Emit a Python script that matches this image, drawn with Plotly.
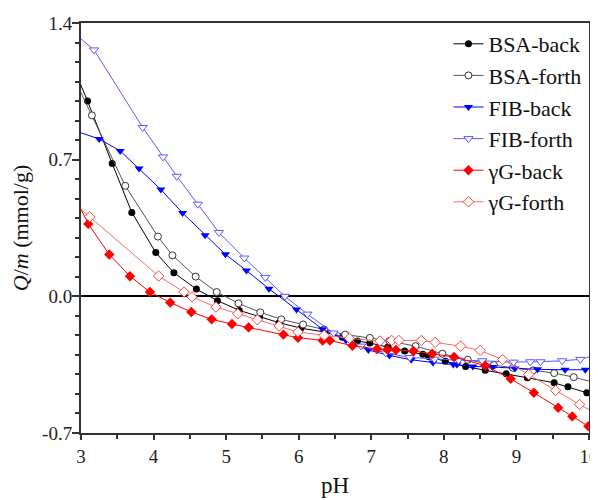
import plotly.graph_objects as go

# ---------------- data ----------------
bsa_back_ph = [2.9, 3.09, 3.43, 3.70, 4.03, 4.28, 4.59, 4.88, 5.18, 5.46, 5.73, 6.03, 6.36, 6.60, 6.81, 6.98,
               7.23, 7.46, 7.71, 7.79, 8.02, 8.30, 8.57, 8.86, 9.15, 9.52, 9.71, 9.97]
bsa_back_q = [1.17, 1.00, 0.68, 0.43, 0.224, 0.121, 0.037, -0.022, -0.072, -0.104, -0.135, -0.163, -0.183, -0.21,
              -0.229, -0.239, -0.26, -0.28, -0.297, -0.308, -0.333, -0.359, -0.379, -0.397, -0.417, -0.443, -0.463, -0.494]

bsa_forth_ph = [2.9, 3.15, 3.61, 4.06, 4.26, 4.58, 4.87, 5.17, 5.47, 5.76, 6.06, 6.35, 6.64, 6.98, 7.25, 7.61,
                7.98, 8.33, 8.69, 8.95, 9.23, 9.52, 9.79, 10.1]
bsa_forth_q = [1.12, 0.927, 0.566, 0.306, 0.21, 0.101, 0.022, -0.036, -0.082, -0.118, -0.144, -0.17, -0.196,
               -0.213, -0.229, -0.255, -0.294, -0.325, -0.352, -0.366, -0.379, -0.393, -0.414, -0.444]

fib_back_ph = [2.9, 3.25, 3.54, 3.80, 4.10, 4.40, 4.71, 4.99, 5.28, 5.59, 5.97, 6.33, 6.65, 6.96, 7.25, 7.55,
               7.85, 8.13, 8.18, 8.40, 8.67, 8.98, 9.29, 9.67, 9.95]
fib_back_q = [0.85, 0.806, 0.745, 0.655, 0.547, 0.427, 0.313, 0.215, 0.132, 0.039, -0.068, -0.169, -0.225, -0.275,
              -0.303, -0.325, -0.339, -0.349, -0.349, -0.359, -0.362, -0.369, -0.374, -0.376, -0.376]

fib_forth_ph = [2.9, 3.18, 3.85, 4.13, 4.32, 4.61, 4.90, 5.25, 5.54, 5.81, 6.12, 6.48, 6.86, 7.20, 7.53, 7.87,
                8.20, 8.53, 8.96, 9.19, 9.33, 9.63, 9.88, 10.1]
fib_forth_q = [1.35, 1.262, 0.865, 0.714, 0.615, 0.472, 0.327, 0.196, 0.097, 0.0, -0.091, -0.188, -0.255, -0.29,
               -0.313, -0.322, -0.327, -0.33, -0.337, -0.335, -0.335, -0.33, -0.323, -0.30]

gg_back_ph = [2.9, 3.10, 3.39, 3.675, 3.95, 4.23, 4.52, 4.80, 5.08, 5.31, 5.79, 5.99, 6.33, 6.43, 6.74, 7.08,
              7.22, 7.34, 7.58, 7.84, 8.14, 8.57, 8.92, 9.24, 9.575, 9.77, 9.99]
gg_back_q = [0.52, 0.371, 0.214, 0.103, 0.022, -0.032, -0.08, -0.118, -0.142, -0.159, -0.196, -0.212, -0.226,
             -0.226, -0.253, -0.27, -0.273, -0.275, -0.28, -0.294, -0.311, -0.355, -0.422, -0.494, -0.571, -0.615, -0.665]

gg_forth_ph = [2.9, 3.12, 4.07, 4.42, 4.53, 4.86, 5.16, 5.43, 5.73, 5.99, 6.35, 6.70, 7.12, 7.28, 7.38, 7.69,
               7.88, 8.23, 8.50, 8.81, 9.17, 9.54, 9.87, 10.1]
gg_forth_q = [0.48, 0.407, 0.104, 0.022, -0.003, -0.055, -0.089, -0.12, -0.152, -0.183, -0.20, -0.215, -0.229,
              -0.226, -0.226, -0.226, -0.236, -0.255, -0.277, -0.324, -0.40, -0.482, -0.554, -0.60]

series_names = ["BSA-back", "BSA-forth", "FIB-back", "FIB-forth", "γG-back", "γG-forth"]

x_tick_vals = [3, 4, 5, 6, 7, 8, 9, 10]
x_tick_text = ["3", "4", "5", "6", "7", "8", "9", "10"]
y_tick_vals = [-0.7, 0.0, 0.7, 1.4]
y_tick_text = ["-0.7", "0.0", "0.7", "1.4"]

# ---------------- styles ----------------
FONT = "Liberation Serif"
styles = [
    dict(line=dict(color="#000000", width=1), marker=dict(symbol="circle", size=7, color="#000000",
                                                          line=dict(color="#000000", width=0))),
    dict(line=dict(color="#555555", width=1), marker=dict(symbol="circle", size=7, color="#ffffff",
                                                          line=dict(color="#333333", width=1))),
    dict(line=dict(color="#0000ff", width=1), marker=dict(symbol="triangle-down", size=8, color="#0000ff",
                                                          line=dict(color="#0000ff", width=0))),
    dict(line=dict(color="#5a5aff", width=1), marker=dict(symbol="triangle-down", size=8, color="#ffffff",
                                                          line=dict(color="#5a5aff", width=1))),
    dict(line=dict(color="#ff0000", width=1), marker=dict(symbol="diamond", size=8, color="#ff0000",
                                                          line=dict(color="#ff0000", width=0))),
    dict(line=dict(color="#ff6a6a", width=1), marker=dict(symbol="diamond", size=8, color="#ffffff",
                                                          line=dict(color="#ff4040", width=1))),
]
xs = [bsa_back_ph, bsa_forth_ph, fib_back_ph, fib_forth_ph, gg_back_ph, gg_forth_ph]
ys = [bsa_back_q, bsa_forth_q, fib_back_q, fib_forth_q, gg_back_q, gg_forth_q]

fig = go.Figure()
for name, x, y, st in zip(series_names, xs, ys, styles):
    fig.add_trace(go.Scatter(x=x, y=y, name=name, mode="lines+markers", cliponaxis=True,
                             legendgroup=name, **st))

axis_common = dict(showline=True, linecolor="#333333", linewidth=2, mirror=True, showgrid=False,
                   ticks="outside", tickcolor="#333333", tickwidth=1.5, automargin=False,
                   ticklabeloverflow="allow",
                   tickfont=dict(family=FONT, size=19, color="#222222"))

# page body has an 8px default margin, so the figure is sized to fit the 598x500 window
fig.update_layout(
    width=590, height=492,
    margin=dict(l=73, r=9, t=15, b=67),
    plot_bgcolor="white", paper_bgcolor="white",
    showlegend=True,
    legend=dict(x=0.995, xanchor="right", y=1.0, yanchor="top", bgcolor="rgba(0,0,0,0)",
                font=dict(family=FONT, size=22, color="#111111"), tracegroupgap=0),
    xaxis=dict(range=[3, 10], tickvals=x_tick_vals, ticktext=x_tick_text, ticklen=5,
               minor=dict(ticks="outside", dtick=0.5, tick0=3, ticklen=4, tickcolor="#333333", tickwidth=1.5),
               title=dict(text="pH", font=dict(family=FONT, size=23, color="#111111"), standoff=11),
               zeroline=False, **axis_common),
    yaxis=dict(range=[-0.7, 1.4], tickvals=y_tick_vals, ticktext=y_tick_text, ticklen=7,
               ticklabelstandoff=-4,
               minor=dict(ticks="outside", dtick=0.1, tick0=0, ticklen=4, tickcolor="#333333", tickwidth=1.5),
               title=dict(text="<i>Q</i>/<i>m</i> (mmol/g)", font=dict(family=FONT, size=22, color="#111111"),
                          standoff=10),
               zeroline=True, zerolinecolor="#000000", zerolinewidth=1.5, **axis_common),
)

fig.write_html("out.html")
